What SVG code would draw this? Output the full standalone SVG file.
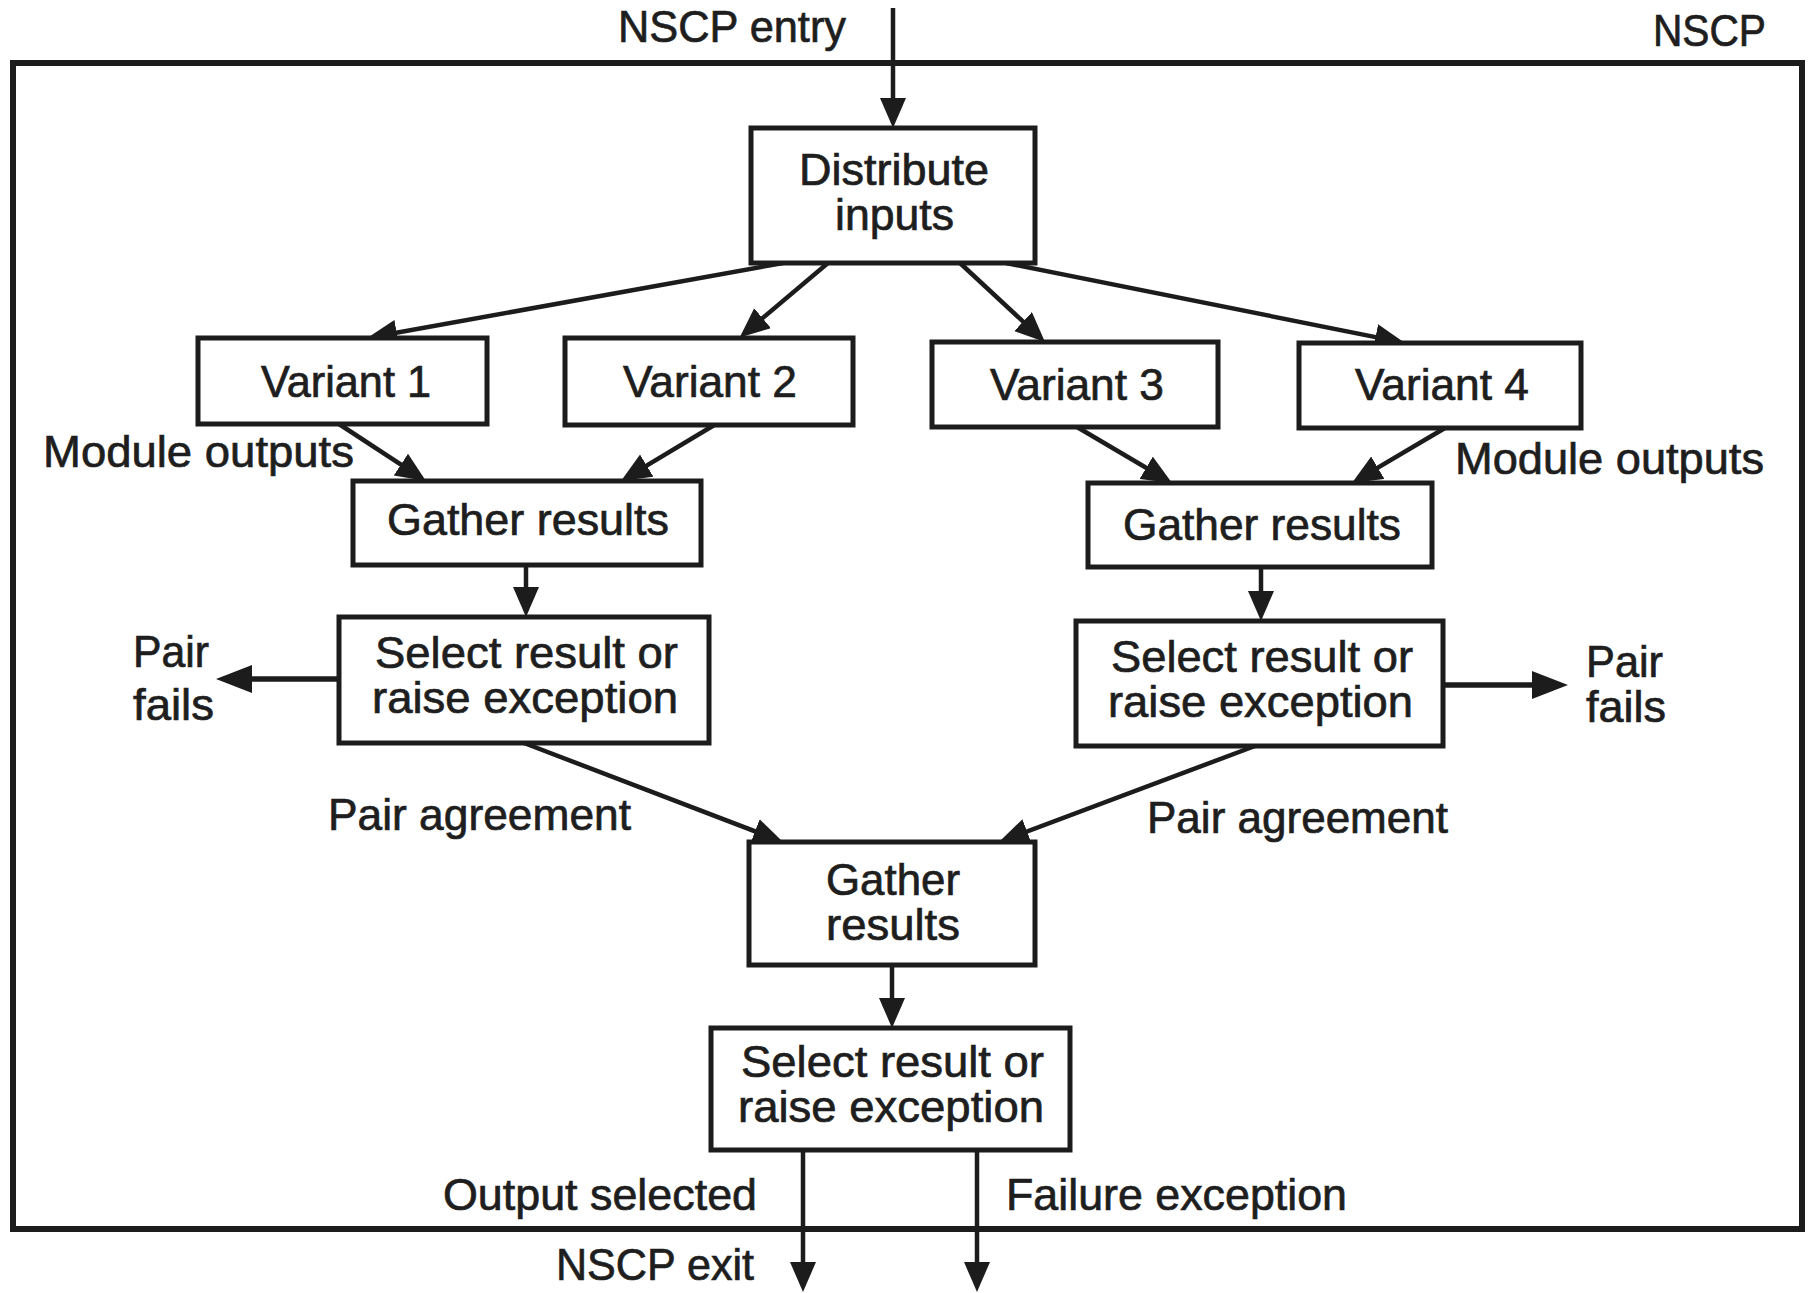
<svg xmlns="http://www.w3.org/2000/svg" width="1809" height="1293" viewBox="0 0 1809 1293">
  <style>
    .box { fill: #ffffff; stroke: #1c1c1c; stroke-width: 5; }
    .frame { fill: none; stroke: #1c1c1c; stroke-width: 6; }
    .edge { fill: none; stroke: #1c1c1c; stroke-width: 4.5; marker-end: url(#ah); }
    .edge-big { fill: none; stroke: #1c1c1c; stroke-width: 5.5; marker-end: url(#ahb); }
    text { font-family: "Liberation Sans", Arial, sans-serif; font-size: 44px; fill: #1e1e1e; stroke: #1e1e1e; stroke-width: 0.7; }
  </style>
  <defs>
    <marker id="ah" markerUnits="userSpaceOnUse" markerWidth="32" markerHeight="28" refX="23" refY="13" orient="auto">
      <path d="M0,0 L30,13 L0,26 z" fill="#1c1c1c"/>
    </marker>
    <marker id="ahb" markerUnits="userSpaceOnUse" markerWidth="38" markerHeight="30" refX="28" refY="14" orient="auto">
      <path d="M0,0 L36,14 L0,28 z" fill="#1c1c1c"/>
    </marker>
  </defs>

  <rect width="1809" height="1293" fill="#ffffff"/>

  <!-- NSCP boundary -->
  <g id="nscp-frame">
    <rect class="frame" x="13" y="63" width="1789" height="1166"/>
    <text x="1653" y="46" textLength="113" lengthAdjust="spacingAndGlyphs">NSCP</text>
  </g>

  <!-- connectors -->
  <g id="connectors">
    <line class="edge" x1="893" y1="8" x2="893" y2="121"/>
    <line class="edge" x1="783" y1="263" x2="374.1" y2="336.8"/>
    <line class="edge" x1="828" y1="263" x2="745" y2="333"/>
    <line class="edge" x1="960" y1="263" x2="1039.9" y2="337.2"/>
    <line class="edge" x1="1006" y1="263" x2="1398.1" y2="341.6"/>
    <line class="edge" x1="339" y1="424" x2="420.1" y2="477.2"/>
    <line class="edge" x1="716" y1="424" x2="627" y2="477.4"/>
    <line class="edge" x1="1077" y1="427" x2="1166" y2="479.5"/>
    <line class="edge" x1="1445" y1="428" x2="1358" y2="479.4"/>
    <line class="edge" x1="526" y1="565" x2="526" y2="610"/>
    <line class="edge" x1="1261" y1="567" x2="1261" y2="614"/>
    <line class="edge-big" x1="339" y1="679" x2="224" y2="679"/>
    <line class="edge-big" x1="1443" y1="685" x2="1560" y2="685"/>
    <line class="edge" x1="524" y1="743" x2="776.5" y2="839.5"/>
    <line class="edge" x1="1255" y1="746" x2="1005.5" y2="839.5"/>
    <line class="edge" x1="892" y1="965" x2="892" y2="1021"/>
    <line class="edge" x1="803" y1="1150" x2="803" y2="1285"/>
    <line class="edge" x1="977" y1="1150" x2="977" y2="1285"/>
  </g>

  <!-- connector labels -->
  <g id="labels">
    <text x="618" y="42" textLength="228" lengthAdjust="spacingAndGlyphs">NSCP entry</text>
    <text x="43" y="467" textLength="311" lengthAdjust="spacingAndGlyphs">Module outputs</text>
    <text x="1455" y="474" textLength="309" lengthAdjust="spacingAndGlyphs">Module outputs</text>
    <text x="133" y="667" textLength="76" lengthAdjust="spacingAndGlyphs">Pair</text>
    <text x="133" y="720" textLength="81" lengthAdjust="spacingAndGlyphs">fails</text>
    <text x="1586" y="677" textLength="77" lengthAdjust="spacingAndGlyphs">Pair</text>
    <text x="1586" y="722" textLength="80" lengthAdjust="spacingAndGlyphs">fails</text>
    <text x="328" y="830" textLength="303" lengthAdjust="spacingAndGlyphs">Pair agreement</text>
    <text x="1147" y="833" textLength="301" lengthAdjust="spacingAndGlyphs">Pair agreement</text>
    <text x="443" y="1210" textLength="314" lengthAdjust="spacingAndGlyphs">Output selected</text>
    <text x="1006" y="1210" textLength="341" lengthAdjust="spacingAndGlyphs">Failure exception</text>
    <text x="556" y="1280" textLength="198" lengthAdjust="spacingAndGlyphs">NSCP exit</text>
  </g>

  <!-- nodes -->
  <g id="distribute-inputs">
    <rect class="box" x="751" y="128" width="284" height="135"/>
    <text x="799" y="185" textLength="190" lengthAdjust="spacingAndGlyphs">Distribute</text>
    <text x="835" y="230" textLength="119" lengthAdjust="spacingAndGlyphs">inputs</text>
  </g>
  <g id="variant-1">
    <rect class="box" x="198" y="338" width="289" height="86"/>
    <text x="261" y="397" textLength="170" lengthAdjust="spacingAndGlyphs">Variant 1</text>
  </g>
  <g id="variant-2">
    <rect class="box" x="565" y="338" width="288" height="87"/>
    <text x="623" y="397" textLength="174" lengthAdjust="spacingAndGlyphs">Variant 2</text>
  </g>
  <g id="variant-3">
    <rect class="box" x="932" y="342" width="286" height="85"/>
    <text x="990" y="400" textLength="174" lengthAdjust="spacingAndGlyphs">Variant 3</text>
  </g>
  <g id="variant-4">
    <rect class="box" x="1299" y="343" width="282" height="85"/>
    <text x="1355" y="400" textLength="174" lengthAdjust="spacingAndGlyphs">Variant 4</text>
  </g>
  <g id="gather-left">
    <rect class="box" x="353" y="481" width="348" height="84"/>
    <text x="387" y="535" textLength="282" lengthAdjust="spacingAndGlyphs">Gather results</text>
  </g>
  <g id="gather-right">
    <rect class="box" x="1088" y="483" width="344" height="84"/>
    <text x="1123" y="540" textLength="278" lengthAdjust="spacingAndGlyphs">Gather results</text>
  </g>
  <g id="select-left">
    <rect class="box" x="339" y="617" width="370" height="126"/>
    <text x="375" y="668" textLength="303" lengthAdjust="spacingAndGlyphs">Select result or</text>
    <text x="372" y="713" textLength="306" lengthAdjust="spacingAndGlyphs">raise exception</text>
  </g>
  <g id="select-right">
    <rect class="box" x="1076" y="621" width="367" height="125"/>
    <text x="1111" y="672" textLength="302" lengthAdjust="spacingAndGlyphs">Select result or</text>
    <text x="1108" y="717" textLength="305" lengthAdjust="spacingAndGlyphs">raise exception</text>
  </g>
  <g id="gather-final">
    <rect class="box" x="749" y="842" width="286" height="123"/>
    <text x="826" y="895" textLength="134" lengthAdjust="spacingAndGlyphs">Gather</text>
    <text x="826" y="940" textLength="134" lengthAdjust="spacingAndGlyphs">results</text>
  </g>
  <g id="select-final">
    <rect class="box" x="711" y="1028" width="359" height="122"/>
    <text x="741" y="1077" textLength="303" lengthAdjust="spacingAndGlyphs">Select result or</text>
    <text x="738" y="1122" textLength="306" lengthAdjust="spacingAndGlyphs">raise exception</text>
  </g>
</svg>
